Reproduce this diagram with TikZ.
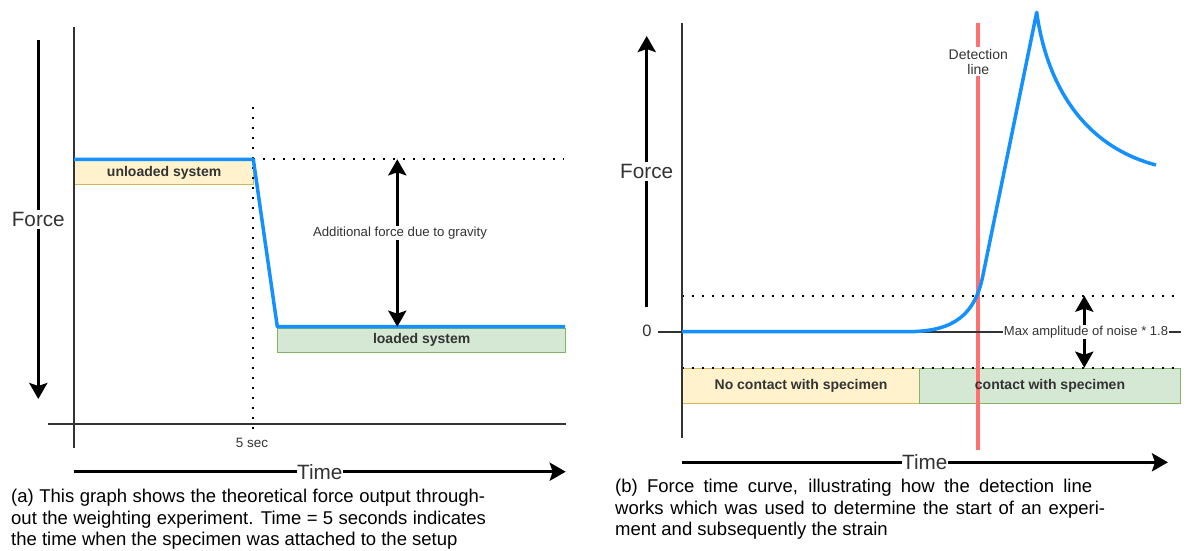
\documentclass[tikz,border=0pt]{standalone}
\usepackage{fontspec}
\setmainfont{Liberation Sans}
\usetikzlibrary{arrows.meta}
\definecolor{curveblue}{RGB}{20,145,255}
\definecolor{detred}{RGB}{255,112,112}
\definecolor{axisgray}{RGB}{51,51,51}
\definecolor{yfill}{HTML}{FFF2CC}
\definecolor{ydraw}{HTML}{D6B656}
\definecolor{gfill}{HTML}{D5E8D4}
\definecolor{gdraw}{HTML}{82B366}
\begin{document}
\begin{tikzpicture}[x=1pt,y=-1pt,
  axisline/.style={draw=axisgray,line width=2pt},
  bigarrow/.style={draw=black,line width=3.5pt,-{Stealth[length=16pt,width=18pt,inset=3pt]}},
  dblarrow/.style={draw=black,line width=3.5pt,{Stealth[length=16pt,width=18pt,inset=3pt]}-{Stealth[length=16pt,width=18pt,inset=3pt]}},
  dotline/.style={draw=black,line width=2pt,dash pattern=on 2pt off 8pt},
  curve/.style={draw=curveblue,line width=3.5pt,line join=round},
  detline/.style={draw=detred,line width=4pt},
  ybox/.style={draw=ydraw,fill=yfill,line width=1pt,anchor=north west,inner sep=0pt},
  gbox/.style={draw=gdraw,fill=gfill,line width=1pt,anchor=north west,inner sep=0pt},
  boxtext/.style={inner sep=0pt,font=\bfseries\fontsize{14}{16}\selectfont,text=black!80},
  axlabel/.style={fill=white,text=axisgray,font=\fontsize{20.7}{24}\selectfont,inner xsep=0.5pt,inner ysep=2pt},
  smalllabel/.style={text=axisgray,font=\fontsize{13.5}{15.5}\selectfont,inner sep=1pt},
  captxt/.style={anchor=base west,inner sep=0pt,font=\fontsize{18.5}{21.3}\selectfont}
]
\fill[white] (0,0) rectangle (1187,550);
\useasboundingbox (0,0) rectangle (1187,550);

% ================= LEFT PANEL =================
\coordinate (lfTop) at (38.3,40);
\coordinate (lfBot) at (38.3,399);
\coordinate (lyTop) at (74,27.3);
\coordinate (lyBot) at (74,448);
\coordinate (lxL) at (48,424);
\coordinate (lxR) at (565.7,424);
\coordinate (lvTop) at (253.3,107);
\coordinate (lvBot) at (253.3,436);
\coordinate (lhL) at (253.3,159.3);
\coordinate (lhR) at (564,159.3);
\coordinate (lb0) at (74,159.3);
\coordinate (lb1) at (253.3,159.3);
\coordinate (lb2) at (277.3,326.7);
\coordinate (lb3) at (565,326.7);
\coordinate (ldTop) at (397.3,159.3);
\coordinate (ldBot) at (397.3,326.7);
\coordinate (ltL) at (74,471.7);
\coordinate (ltR) at (565.7,471.7);

\node[ybox,minimum width=179.3pt,minimum height=24pt] (unl) at (74,160) {};
\node[boxtext] (unltxt) at (unl.center) {unloaded system};
\node[gbox,minimum width=287.7pt,minimum height=24pt] (lod) at (277.3,327.7) {};
\node[boxtext] (lodtxt) at (lod.center) {loaded system};

\draw[dotline] (lvTop) -- (lvBot);
\draw[dotline] (lhL) -- (lhR);
\draw[axisline] (lyTop) -- (lyBot);
\draw[axisline] (lxL) -- (lxR);
\draw[curve] (lb0) -- (lb1) -- (lb2) -- (lb3);
\draw[dblarrow] (ldTop) -- (ldBot);
\node[smalllabel,fill=white,font=\fontsize{13.2}{15}\selectfont] (grav) at (400,232.7) {Additional force due to gravity};
\node[smalllabel] (fivesec) at (252,442.7) {5 sec};

\draw[bigarrow] (lfTop) -- (lfBot) node[midway,axlabel] (lforce) {Force};
\draw[bigarrow] (ltL) -- (ltR) node[midway,axlabel] (ltime) {Time};

\node[captxt] (capa1) at (11,502.7) {\makebox[474pt][s]{(a) This graph shows the theoretical force output through-}};
\node[captxt] (capa2) at (11,524.3) {\makebox[474.7pt][s]{out the weighting experiment. Time = 5 seconds indicates}};
\node[captxt] (capa3) at (11,545.5) {the time when the specimen was attached to the setup};

% ================= RIGHT PANEL =================
\coordinate (rfTop) at (646.7,36);
\coordinate (rfBot) at (646.7,306.7);
\coordinate (ryTop) at (681.7,23.3);
\coordinate (ryBot) at (681.7,438);
\coordinate (rzL) at (658,331.7);
\coordinate (rzR) at (1181,331.7);
\coordinate (ruL) at (682,295.7);
\coordinate (ruR) at (1178,295.7);
\coordinate (rlL) at (682,367.7);
\coordinate (rlR) at (1178,367.7);
\coordinate (redTop) at (978.3,23.3);
\coordinate (redBot) at (978.3,450);
\coordinate (rdTop) at (1084.3,295.7);
\coordinate (rdBot) at (1084.3,367.7);
\coordinate (rtL) at (681.7,462.3);
\coordinate (rtR) at (1168,462.3);
\coordinate (c0) at (682,331.7);
\coordinate (c1) at (906,331.7);
\coordinate (c2) at (983,275);
\coordinate (cpk) at (1036.7,12.3);
\coordinate (cend) at (1156,165);

\node[ybox,minimum width=237pt,minimum height=35pt] (nocon) at (682,367.7) {};
\node[gbox,minimum width=261pt,minimum height=35pt] (con) at (919,367.7) {};

\draw[detline] (redTop) -- (redBot);
\node[fill=white,text=axisgray,align=center,inner xsep=1pt,inner ysep=1.5pt,font=\fontsize{14}{15.3}\selectfont] (detlbl) at (978.3,61.7) {Detection\\line};

\node[boxtext] (nocontxt) at (nocon.center) {No contact with specimen};
\node[boxtext] (contxt) at (con.center) {contact with specimen};

\draw[dotline] (ruL) -- (ruR);
\draw[dotline] (rlL) -- (rlR);
\draw[axisline] (rzL) -- (rzR);
\draw[axisline] (ryTop) -- (ryBot);
\draw[dblarrow] (rdTop) -- (rdBot);
\node[smalllabel,fill=white,font=\fontsize{13}{15}\selectfont,inner xsep=0.5pt] (noise) at (1086,331.7) {Max amplitude of noise * 1.8};
\node[text=axisgray,font=\fontsize{16.5}{19}\selectfont,inner sep=1pt] (zero) at (647,331.2) {0};

\draw[curve] (c0) -- (c1) .. controls (945,331.7) and (974,322) .. (c2) -- (cpk) .. controls (1046,80) and (1080,145) .. (cend);

\draw[bigarrow] (rfBot) -- (rfTop) node[midway,axlabel] (rforce) {Force};
\draw[bigarrow] (rtL) -- (rtR) node[midway,axlabel] (rtime) {Time};

\node[captxt] (capb1) at (615,492.7) {\makebox[477pt][s]{(b) Force time curve, illustrating how the detection line}};
\node[captxt] (capb2) at (615,514) {\makebox[490pt][s]{works which was used to determine the start of an experi-}};
\node[captxt] (capb3) at (615,535.3) {ment and subsequently the strain};
\end{tikzpicture}
\end{document}
